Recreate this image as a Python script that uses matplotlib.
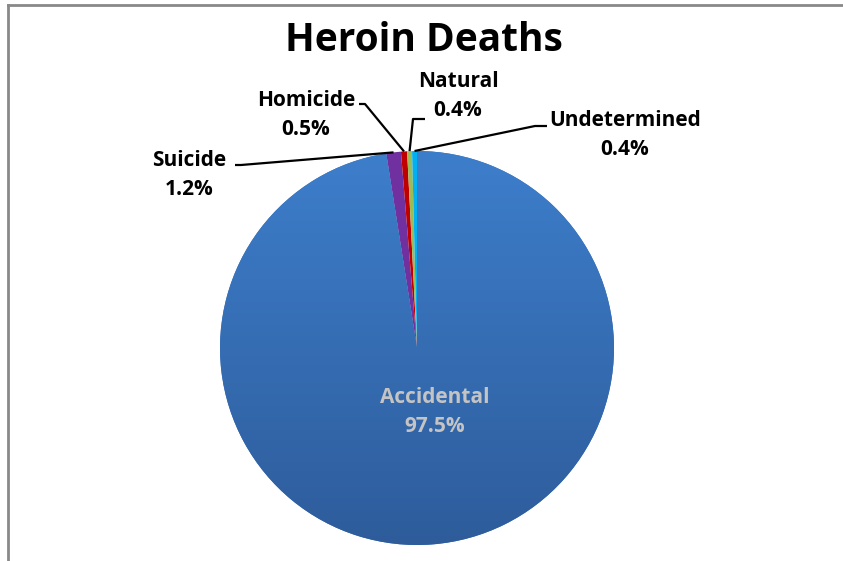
import numpy as np
import matplotlib
matplotlib.use("Agg")
import matplotlib.pyplot as plt
from matplotlib.lines import Line2D

# data
labels = ['Accidental', 'Suicide', 'Homicide', 'Natural', 'Undetermined']
values = [97.5, 1.2, 0.5, 0.4, 0.4]
colors = ['#3670B8', '#7030A0', '#C00000', '#9BBB59', '#00B0F0']

W, H = 843, 561
cx, cy, r = 417, H - 348, 197

plt.rcParams['font.family'] = ['Open Sans', 'DejaVu Sans']

fig = plt.figure(figsize=(W / 100, H / 100), dpi=100)
ax = fig.add_axes([0, 0, 1, 1])

wedges, _ = ax.pie(values, colors=colors, startangle=90, counterclock=False,
                   center=(cx, cy), radius=r,
                   wedgeprops=dict(linewidth=0))

# gradient fill on the big slice
grad = np.linspace(0, 1, 256)[:, None]
top = np.array([0x3D, 0x7E, 0xCB]) / 255
bot = np.array([0x2E, 0x5C, 0x9B]) / 255
img = (bot[None, None, :] * (1 - grad[..., None]) + top[None, None, :] * grad[..., None])
im = ax.imshow(img, extent=(cx - r, cx + r, cy - r, cy + r), origin='lower',
               aspect='auto', zorder=wedges[0].get_zorder() + 0.1)
im.set_clip_path(wedges[0])

ax.set_xlim(0, W)
ax.set_ylim(0, H)
ax.set_axis_off()

# title
ax.text(424, H - 40, 'Heroin Deaths', ha='center', va='center',
        fontsize=28, fontweight='bold', color='black')

# inside label
ax.text(435, H - 412, f'{labels[0]}\n{values[0]:.1f}%', ha='center', va='center',
        fontsize=15, fontweight='bold', color='#C4C4C4', linespacing=1.5)

# outside labels: (text center x, text center y, leader anchor points)
outside = {
    'Suicide': (189, 175, [(235, 165), (241, 165)]),
    'Homicide': (306, 115, [(359, 104), (365, 104)]),
    'Natural': (458, 96, [(425, 119), (413, 119)]),
    'Undetermined': (625, 135, [(547, 126), (535, 126)]),
}

for w, lab, val in zip(wedges[1:], labels[1:], values[1:]):
    tx, ty, pts = outside[lab]
    ax.text(tx, H - ty, f'{lab}\n{val:.1f}%', ha='center', va='center',
            fontsize=15, fontweight='bold', color='black', linespacing=1.5)
    mid = np.deg2rad((w.theta1 + w.theta2) / 2)
    ex, ey = cx + r * np.cos(mid), cy + r * np.sin(mid)
    xs = [p[0] for p in pts] + [ex]
    ys = [H - p[1] for p in pts] + [ey]
    ax.plot(xs, ys, color='black', lw=1.6, solid_capstyle='butt', zorder=5)

# chart frame (only left and top edges visible)
fig.lines.append(Line2D([8 / W, 8 / W], [0, 1 - 5 / H], transform=fig.transFigure,
                        color='#898989', lw=2))
fig.lines.append(Line2D([8 / W, 1], [1 - 5 / H, 1 - 5 / H], transform=fig.transFigure,
                        color='#898989', lw=2))

fig.savefig('out.png', dpi=100)
